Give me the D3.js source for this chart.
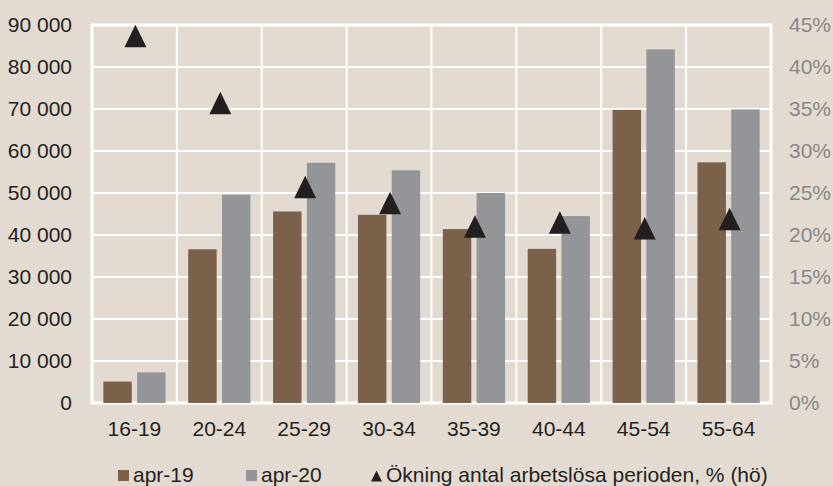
<!DOCTYPE html>
<html>
<head>
<meta charset="utf-8">
<script src="https://cdn.jsdelivr.net/npm/d3@7"></script>
<style>
  html, body { margin: 0; padding: 0; background: #e3dbd2; }
  svg { display: block; font-family: "Liberation Sans", Arial, sans-serif; }
</style>
</head>
<body>
<svg id="chart" width="833" height="486"></svg>
<script>
// Arbetslösa per åldersgrupp, april 2019 och april 2020
const categories = ["16-19", "20-24", "25-29", "30-34", "35-39", "40-44", "45-54", "55-64"];
const apr19 = [5100, 36600, 45600, 44800, 41400, 36700, 69800, 57300];
const apr20 = [7300, 49600, 57200, 55400, 50000, 44500, 84200, 69900];
const okning = [43.7, 35.7, 25.7, 23.8, 21.0, 21.5, 20.8, 21.9]; // procent, höger axel
const leftTicks = [0, 10000, 20000, 30000, 40000, 50000, 60000, 70000, 80000, 90000];
const rightTicks = [0, 5, 10, 15, 20, 25, 30, 35, 40, 45];
const seriesNames = ["apr-19", "apr-20"];

const colors = { "apr-19": "#7b604a", "apr-20": "#939598" };
const markerColor = "#231f20";
const textColor = "#231f20";
const rightTextColor = "#878787";

const svg = d3.select("#chart");
const m = { left: 92, right: 771, top: 25, bottom: 403 };

const x0 = d3.scaleBand().domain(categories).range([m.left, m.right]);
const x1 = d3.scaleBand().domain(seriesNames).range([0, x0.bandwidth()])
  .paddingInner(0.157).paddingOuter(0.336);
const y = d3.scaleLinear().domain([0, 90000]).range([m.bottom, m.top]);
const yR = d3.scaleLinear().domain([0, 45]).range([m.bottom, m.top]);

// triangel centrerad kring sin omskrivna rektangel
const triPath = (w, h) => {
  const p = d3.path();
  p.moveTo(0, -h / 2); p.lineTo(w / 2, h / 2); p.lineTo(-w / 2, h / 2); p.closePath();
  return p.toString();
};

// rutnät
const grid = svg.append("g");
grid.selectAll("line.h").data(leftTicks.slice(1, -1)).join("line")
  .attr("x1", m.left).attr("x2", m.right)
  .attr("y1", d => y(d)).attr("y2", d => y(d))
  .attr("stroke", "#fff").attr("stroke-width", 2);
grid.selectAll("line.v").data(categories.slice(1)).join("line")
  .attr("x1", d => x0(d)).attr("x2", d => x0(d))
  .attr("y1", m.top).attr("y2", m.bottom)
  .attr("stroke", "#fff").attr("stroke-width", 2);
grid.append("rect")
  .attr("x", m.left).attr("y", m.top)
  .attr("width", m.right - m.left).attr("height", m.bottom - m.top)
  .attr("fill", "none").attr("stroke", "#fff").attr("stroke-width", 3);

// staplar
const rows = categories.map((c, i) => ({ c, vals: [
  { s: "apr-19", v: apr19[i] }, { s: "apr-20", v: apr20[i] }
] }));
svg.append("g").selectAll("g").data(rows).join("g")
  .attr("transform", d => `translate(${x0(d.c)},0)`)
  .selectAll("rect").data(d => d.vals).join("rect")
  .attr("x", d => x1(d.s)).attr("width", x1.bandwidth())
  .attr("y", d => y(d.v)).attr("height", d => y(0) - y(d.v))
  .attr("fill", d => colors[d.s]);

// trianglar, ökning i procent
svg.append("g").selectAll("path").data(categories).join("path")
  .attr("d", triPath(22, 22.5))
  .attr("transform", (c, i) => `translate(${x0(c) + x0.bandwidth() / 2 + 1},${yR(okning[i])})`)
  .attr("fill", markerColor);

// axlar
const fmt = d => d3.format(",")(d).replace(/,/g, " ");
const la = svg.append("g").attr("transform", `translate(${m.left - 17},0)`)
  .call(d3.axisLeft(y).tickValues(leftTicks).tickFormat(fmt).tickSize(0));
la.select(".domain").remove();
la.selectAll("text").attr("font-size", 21).attr("fill", textColor)
  .attr("font-family", "Liberation Sans, Arial, sans-serif");

const ra = svg.append("g").attr("transform", `translate(${m.right + 15},0)`)
  .call(d3.axisRight(yR).tickValues(rightTicks).tickFormat(d => d + "%").tickSize(0));
ra.select(".domain").remove();
ra.selectAll("text").attr("font-size", 21).attr("fill", rightTextColor)
  .attr("font-family", "Liberation Sans, Arial, sans-serif");

const xa = svg.append("g").attr("transform", `translate(0,${m.bottom + 15})`)
  .call(d3.axisBottom(x0).tickSize(0));
xa.select(".domain").remove();
xa.selectAll("text").attr("font-size", 21).attr("fill", textColor)
  .attr("font-family", "Liberation Sans, Arial, sans-serif");

// förklaring
const lg = svg.append("g").attr("font-size", 21).attr("fill", textColor);
const legendY = 476;
[["apr-19", 118], ["apr-20", 246]].forEach(([s, lx]) => {
  lg.append("rect").attr("x", lx).attr("y", legendY - 6).attr("width", 11).attr("height", 11)
    .attr("fill", colors[s]);
  lg.append("text").attr("x", lx + 15).attr("y", legendY + 6).text(s);
});
lg.append("path").attr("d", triPath(11, 11))
  .attr("transform", `translate(376.5,${legendY})`).attr("fill", markerColor);
lg.append("text").attr("x", 386).attr("y", legendY + 6)
  .text("Ökning antal arbetslösa perioden, % (hö)");
</script>
</body>
</html>
